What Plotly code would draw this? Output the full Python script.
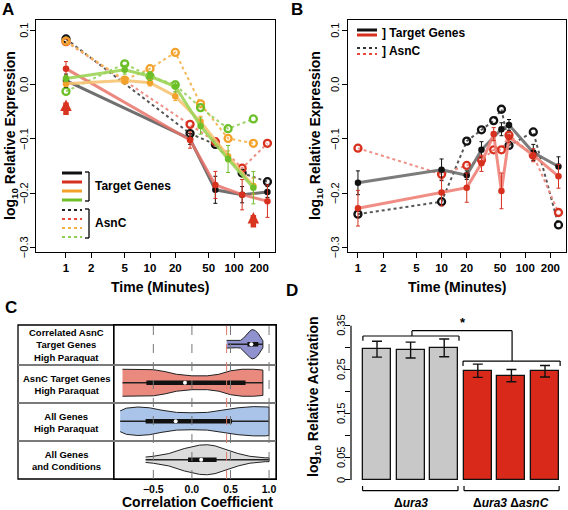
import plotly.graph_objects as go
import math

W, H = 568, 510
def PX(px): return px / W
def PY(py): return 1 - py / H

FONT = "Liberation Sans, Arial, sans-serif"

# ---------------- Panel A data ----------------
a_t_long = [1, 30, 60, 125, 250]
a_t_short = [1, 5, 10, 20, 40, 85, 170]
a_black_tg = [0.008, -0.100, -0.194, -0.203, -0.198]
a_black_tg_err = [0.012, 0.010, 0.025, 0.015, 0.010]
a_red_tg = [0.030, -0.102, -0.185, -0.203, -0.215]
a_red_tg_err = [0.013, 0.015, 0.025, 0.028, 0.030]
a_orange_tg = [0.002, 0.008, 0.004, -0.021, -0.068, -0.132, -0.187]
a_orange_tg_err = [0.005, 0.006, 0.006, 0.008, 0.010, 0.010, 0.015]
a_green_tg = [0.012, 0.028, 0.016, -0.003, -0.076, -0.137, -0.190]
a_green_tg_err = [0.006, 0.008, 0.008, 0.010, 0.015, 0.025, 0.030]
a_black_asnc = [0.085, -0.090, -0.110, -0.163, -0.179]
a_red_asnc = [0.080, -0.073, -0.105, -0.154, -0.108]
a_orange_asnc = [0.081, 0.009, 0.030, 0.060, -0.035, -0.099, -0.108]
a_green_asnc = [-0.012, 0.039, 0.016, 0.000, -0.042, -0.081, -0.063]
a_arrow_times = [1, 170]
a_arrow_heads = [-0.027, -0.235]

# ---------------- Panel B data ----------------
b_t_black = [1, 10, 20, 30, 52, 64, 125, 250]
b_t_all = [1, 10, 20, 30, 42, 52, 64, 125, 250]
b_black_tg = [-0.181, -0.157, -0.167, -0.120, -0.082, -0.074, -0.125, -0.151]
b_black_tg_err = [0.022, 0.020, 0.008, 0.015, 0.012, 0.010, 0.015, 0.018]
b_red_tg = [-0.228, -0.199, -0.190, -0.145, -0.091, -0.196, -0.097, -0.130, -0.169]
b_red_tg_err = [0.033, 0.025, 0.027, 0.015, 0.012, 0.033, 0.010, 0.012, 0.022]
b_black_asnc = [-0.239, -0.216, -0.104, -0.083, -0.066, -0.045, -0.112, -0.087, -0.259]
b_red_asnc = [-0.117, -0.165, -0.149, -0.139, -0.120, -0.120, -0.093, -0.130, -0.236]

time_ticks = [1, 2, 5, 10, 20, 50, 100, 200]
expr_ticks = [-0.3, -0.2, -0.1, 0.0, 0.1]
expr_labels = ["−0.3", "−0.2", "−0.1", "0.0", "0.1"]

# ---------------- Panel C data ----------------
c_rows = ["All Genes<br>and Conditions", "All Genes<br>High Paraquat",
          "AsnC Target Genes<br>High Paraquat", "Correlated AsnC<br>Target Genes<br>High Paraquat"]
c_colors = ["#dcdcdc", "#a9c4e8", "#ea8a7f", "#8f92cf"]
c_x = [
    [-0.6, -0.5, -0.3, -0.1, 0.1, 0.2, 0.3, 0.45, 0.6, 0.75, 0.85, 0.95, 1.0],
    [-0.93, -0.85, -0.7, -0.55, -0.4, -0.2, 0.0, 0.2, 0.4, 0.6, 0.8, 0.95, 1.0],
    [-0.9, -0.7, -0.5, -0.35, -0.2, 0.0, 0.2, 0.35, 0.5, 0.65, 0.8, 0.92],
    [0.45, 0.5, 0.58, 0.63, 0.67, 0.71, 0.75, 0.78, 0.82, 0.86, 0.89, 0.92],
]
c_halfwidth = [  # in fraction of a row
    [0.07, 0.09, 0.16, 0.29, 0.38, 0.39, 0.36, 0.26, 0.16, 0.09, 0.065, 0.05, 0.05],
    [0.27, 0.34, 0.37, 0.35, 0.29, 0.23, 0.22, 0.23, 0.29, 0.35, 0.38, 0.38, 0.37],
    [0.35, 0.35, 0.34, 0.29, 0.22, 0.18, 0.18, 0.22, 0.31, 0.35, 0.35, 0.33],
    [0.1, 0.1, 0.09, 0.1, 0.16, 0.26, 0.34, 0.38, 0.36, 0.28, 0.18, 0.09],
]
c_whisk_lo = [-0.6, -0.93, -0.9, 0.47]
c_whisk_hi = [1.0, 1.0, 0.92, 0.92]
c_q1 = [-0.05, -0.6, -0.59, 0.72]
c_q3 = [0.32, 0.52, 0.695, 0.86]
c_median = [0.12, -0.21, -0.09, 0.77]
c_ref_lines = [-0.5, 0.0, 0.5, 1.0]
c_threshold = 0.45

# ---------------- Panel D data ----------------
d_values = [0.297, 0.295, 0.300, 0.248, 0.237, 0.247]
d_errors = [0.018, 0.018, 0.020, 0.015, 0.014, 0.013]
d_colors = ["#c8c8c8"] * 3 + ["#d9291b"] * 3
d_groups = ["<b>Δ<i>ura3</i></b>", "<b>Δ<i>ura3</i> Δ<i>asnC</i></b>"]
d_ticks = [0, 0.05, 0.1, 0.15, 0.2, 0.25, 0.3, 0.35]
d_tick_labels = ["0", "0.05", "", "0.15", "", "0.25", "", "0.35"]

BLACK = "#111111"; RED = "#d7301f"; ORANGE = "#f2a22a"; GREEN = "#6dbf2a"
fig = go.Figure()

def solid(x, y, err, line_col, dot_col, xa, ya):
    fig.add_trace(go.Scatter(x=x, y=y, mode="lines", line=dict(color=line_col, width=3),
                             xaxis=xa, yaxis=ya, showlegend=False, hoverinfo="skip"))
    fig.add_trace(go.Scatter(x=x, y=y, mode="markers",
                             marker=dict(color=dot_col, size=6.5),
                             error_y=dict(type="data", array=err, color=dot_col, thickness=1, width=2),
                             xaxis=xa, yaxis=ya, showlegend=False))

def dotted(x, y, line_col, circ_col, xa, ya):
    fig.add_trace(go.Scatter(x=x, y=y, mode="lines+markers",
                             line=dict(color=line_col, width=2, dash="dot"),
                             marker=dict(symbol="circle-open", size=7, color=circ_col, line=dict(width=2.3, color=circ_col)),
                             xaxis=xa, yaxis=ya, showlegend=False))

# Panel A
dotted(a_t_long, a_black_asnc, "#555555", BLACK, "x", "y")
dotted(a_t_long, a_red_asnc, "#ef8f85", RED, "x", "y")
dotted(a_t_short, a_orange_asnc, "#f5b85a", ORANGE, "x", "y")
dotted(a_t_short, a_green_asnc, "#9fd468", GREEN, "x", "y")
solid(a_t_long, a_black_tg, a_black_tg_err, "rgba(95,95,95,0.9)", BLACK, "x", "y")
solid(a_t_long, a_red_tg, a_red_tg_err, "rgba(232,115,105,0.85)", RED, "x", "y")
solid(a_t_short, a_orange_tg, a_orange_tg_err, "rgba(246,195,115,0.9)", ORANGE, "x", "y")
solid(a_t_short, a_green_tg, a_green_tg_err, "rgba(155,212,85,0.9)", GREEN, "x", "y")

# Panel B
dotted(b_t_all, b_black_asnc, "#555555", BLACK, "x2", "y2")
dotted(b_t_all, b_red_asnc, "#ef8f85", RED, "x2", "y2")
solid(b_t_black, b_black_tg, b_black_tg_err, "rgba(110,110,110,0.9)", BLACK, "x2", "y2")
solid(b_t_all, b_red_tg, b_red_tg_err, "rgba(238,130,120,0.9)", RED, "x2", "y2")

# Panel C violins
for i in range(4):
    xs = c_x[i]; hw = c_halfwidth[i]
    px_ = xs + xs[::-1]
    py_ = [i + h for h in hw] + [i - h for h in hw[::-1]]
    fig.add_trace(go.Scatter(x=px_, y=py_, mode="lines", fill="toself", fillcolor=c_colors[i],
                             line=dict(color="#222222", width=1), xaxis="x3", yaxis="y3",
                             showlegend=False, hoverinfo="skip"))
    fig.add_trace(go.Scatter(x=[c_whisk_lo[i], c_whisk_hi[i]], y=[i, i], mode="lines",
                             line=dict(color="#222222", width=1.3), xaxis="x3", yaxis="y3", showlegend=False))
    fig.add_trace(go.Scatter(x=[c_q1[i], c_q3[i]], y=[i, i], mode="lines",
                             line=dict(color="#111111", width=4.5), xaxis="x3", yaxis="y3", showlegend=False))
    fig.add_trace(go.Scatter(x=[c_median[i]], y=[i], mode="markers",
                             marker=dict(color="white", size=4), xaxis="x3", yaxis="y3", showlegend=False))

# Panel D bars
fig.add_trace(go.Bar(x=list(range(6)), y=d_values, width=0.83,
                     marker=dict(color=d_colors, line=dict(color="#111111", width=1.3)),
                     error_y=dict(type="data", array=d_errors, color="#111111", thickness=1.4, width=5),
                     xaxis="x4", yaxis="y4", showlegend=False))

# ---------------- Axes ----------------
ax_common = dict(showgrid=False, zeroline=False, showline=True, linecolor="black", linewidth=1.3,
                 ticks="outside", ticklen=5, tickcolor="black", tickwidth=1)
xfont = dict(family=FONT, size=11.5, color="black", weight="bold")
YFS = 11

fig.update_layout(
    width=W, height=H, margin=dict(l=0, r=0, t=0, b=0),
    plot_bgcolor="white", paper_bgcolor="white", font=dict(family=FONT, color="black"),
    xaxis=dict(domain=[PX(36), PX(275)], type="log", range=[-0.357, 2.488], tickvals=time_ticks,
               ticktext=[str(t) for t in time_ticks], mirror=True, anchor="y", tickfont=xfont, **ax_common),
    yaxis=dict(domain=[PY(252), PY(20)], range=[-0.309, 0.12], tickvals=expr_ticks,
               showticklabels=False, mirror=True, anchor="x", **ax_common),
    xaxis2=dict(domain=[PX(348), PX(566)], type="log", range=[-0.119, 2.488], tickvals=time_ticks,
                ticktext=[str(t) for t in time_ticks], mirror=True, anchor="y2", tickfont=xfont, **ax_common),
    yaxis2=dict(domain=[PY(252), PY(20)], range=[-0.309, 0.12], tickvals=expr_ticks,
                showticklabels=False, mirror=True, anchor="x2", **ax_common),
    xaxis3=dict(domain=[PX(114), PX(276)], range=[-1.01, 1.09], tickvals=c_ref_lines,
                ticktext=["−0.5", "0.0", "0.5", "1.0"], showgrid=False, zeroline=False, showline=True,
                linecolor="black", linewidth=1.3, mirror=True, ticks="", anchor="y3",
                tickfont=dict(family=FONT, size=10.5, color="black", weight="bold")),
    yaxis3=dict(domain=[PY(479), PY(325)], range=[-0.5, 3.5], showgrid=False, zeroline=False, showline=True,
                linecolor="black", linewidth=1.3, mirror=True, showticklabels=False, ticks="", anchor="x3"),
    xaxis4=dict(domain=[PX(351), PX(565)], range=[-0.774, 5.595], visible=False, anchor="y4"),
    yaxis4=dict(domain=[0, PY(310)], range=[-0.0682, 0.386], tickvals=d_ticks, showticklabels=False,
                showgrid=False, zeroline=False, showline=False, ticks="outside", ticklen=5,
                tickcolor="black", anchor="x4"),
    bargap=0,
)

shapes = []
annots = []

def ann(x, y, text, size=12, bold=True, xanchor="center", yanchor="middle", angle=0, xref="paper", yref="paper"):
    t = f"<b>{text}</b>" if bold else text
    annots.append(dict(x=x, y=y, xref=xref, yref=yref, text=t, showarrow=False, xanchor=xanchor,
                       yanchor=yanchor, textangle=angle, font=dict(family=FONT, size=size, color="black")))

# rotated y tick labels (R style)
for v, l in zip(expr_ticks, expr_labels):
    ann(PX(24), v, l, size=YFS, bold=False, angle=-90, yref="y")
    ann(PX(335), v, l, size=YFS, bold=False, angle=-90, yref="y2")
for v, l in zip(d_ticks, d_tick_labels):
    if l:
        ann(PX(341), v, l, size=YFS, bold=False, angle=-90, yref="y4")

# Panel letters
for lab, (x, y) in {"A": (8, 9), "B": (297, 9), "C": (11, 307), "D": (292, 290)}.items():
    ann(PX(x), PY(y), lab, size=17)

# axis titles
ann(PX(11), PY(136), "log<sub>10</sub> Relative Expression", size=14, angle=-90)
ann(PX(316), PY(136), "log<sub>10</sub> Relative Expression", size=14, angle=-90)
ann(PX(314), PY(397), "log<sub>10</sub> Relative Activation", size=14, angle=-90)
ann(PX(160), PY(287), "Time (Minutes)", size=14)
ann(PX(457), PY(287), "Time (Minutes)", size=14)
ann(PX(197), PY(502), "Correlation Coefficient", size=14)

# Red arrows A
for t, yh in zip(a_arrow_times, a_arrow_heads):
    annots.append(dict(x=math.log10(t), y=yh, xref="x", yref="y", text="", showarrow=True,
                       arrowhead=2, arrowsize=0.42, arrowwidth=5.5, arrowcolor="#d8341f", ax=0, ay=17))

# Legend A
leg_cols = [BLACK, RED, ORANGE, GREEN]
leg_dcols = ["#222222", "#e8493b", "#f5b040", "#8fd050"]
for k, c in enumerate(leg_cols):
    yy = 173 + 9 * k
    shapes.append(dict(type="line", xref="paper", yref="paper", x0=PX(62), x1=PX(82), y0=PY(yy), y1=PY(yy),
                       line=dict(color=c, width=3)))
for k, c in enumerate(leg_dcols):
    yy = 210 + 9 * k
    shapes.append(dict(type="line", xref="paper", yref="paper", x0=PX(62), x1=PX(82), y0=PY(yy), y1=PY(yy),
                       line=dict(color=c, width=2, dash="dot")))
for (y0, y1) in [(172, 201), (209, 238)]:
    for seg in [((85, y0), (89, y0)), ((89, y0), (89, y1)), ((85, y1), (89, y1))]:
        shapes.append(dict(type="line", xref="paper", yref="paper", x0=PX(seg[0][0]), y0=PY(seg[0][1]),
                           x1=PX(seg[1][0]), y1=PY(seg[1][1]), line=dict(color="black", width=1.3)))
ann(PX(93), PY(186), "Target Genes", size=12, xanchor="left")
ann(PX(93), PY(223), "AsnC", size=12, xanchor="left")

# Legend B
for yy, c, d in [(30, BLACK, None), (35, RED, None), (48, "#333333", "dot"), (54, "#e8493b", "dot")]:
    shapes.append(dict(type="line", xref="paper", yref="paper", x0=PX(357), x1=PX(377), y0=PY(yy), y1=PY(yy),
                       line=dict(color=c, width=3 if d is None else 2, dash=d or "solid")))
ann(PX(380), PY(33), "] Target Genes", size=12, xanchor="left")
ann(PX(380), PY(51), "] AsnC", size=12, xanchor="left")

# Panel C frame, label column
shapes.append(dict(type="rect", xref="paper", yref="paper", x0=PX(18), x1=PX(276), y0=PY(479), y1=PY(325),
                   line=dict(color="black", width=1.3)))
shapes.append(dict(type="line", xref="paper", yref="paper", x0=PX(114), x1=PX(114), y0=PY(479), y1=PY(325),
                   line=dict(color="black", width=1.3)))
for yy in [365, 403, 441]:
    shapes.append(dict(type="line", xref="paper", yref="paper", x0=PX(18), x1=PX(276), y0=PY(yy), y1=PY(yy),
                       line=dict(color="#7a7a7a", width=2)))
for v in c_ref_lines:
    shapes.append(dict(type="line", xref="x3", yref="y3 domain", x0=v, x1=v, y0=0, y1=1,
                       line=dict(color="#777777", width=1, dash="dash")))
shapes.append(dict(type="line", xref="x3", yref="y3 domain", x0=c_threshold, x1=c_threshold, y0=0, y1=1,
                   line=dict(color="#e07a6a", width=1, dash="dash")))
row_centers = [460, 422, 384, 345]
for i, txt in enumerate(c_rows):
    ann(PX(66), PY(row_centers[i]), txt, size=9.5)

# Panel D axis line + brackets
shapes.append(dict(type="line", xref="x4 domain", yref="y4", x0=0, x1=0, y0=0, y1=0.35,
                   line=dict(color="black", width=1.2)))
def dline(x0, y0, x1, y1):
    shapes.append(dict(type="line", xref="x4", yref="y4", x0=x0, y0=y0, x1=x1, y1=y1,
                       line=dict(color="black", width=1.2)))
dline(-0.42, 0.327, 2.44, 0.327); dline(-0.42, 0.327, -0.42, 0.316); dline(2.44, 0.327, 2.44, 0.316)
dline(1.04, 0.327, 1.04, 0.339); dline(1.04, 0.339, 4.02, 0.339); dline(4.02, 0.339, 4.02, 0.270)
dline(2.56, 0.270, 5.45, 0.270); dline(2.56, 0.270, 2.56, 0.259); dline(5.45, 0.270, 5.45, 0.259)
annots.append(dict(x=2.55, y=0.357, xref="x4", yref="y4", text="<b>*</b>", showarrow=False,
                   font=dict(family=FONT, size=13, color="black")))
for (a, b) in [(-0.43, 2.41), (2.59, 5.42)]:
    dline(a, -0.0243, b, -0.0243); dline(a, -0.0243, a, -0.0136); dline(b, -0.0243, b, -0.0136)
for gx, lab in zip([1, 4], d_groups):
    annots.append(dict(x=gx, y=-0.0525, xref="x4", yref="y4", text=lab, showarrow=False,
                       font=dict(family=FONT, size=12, color="black")))

fig.update_layout(shapes=shapes, annotations=annots)
fig.write_html("out.html", config={"displayModeBar": False},
               post_script="document.body.style.margin='0';document.body.style.overflow='hidden';")
